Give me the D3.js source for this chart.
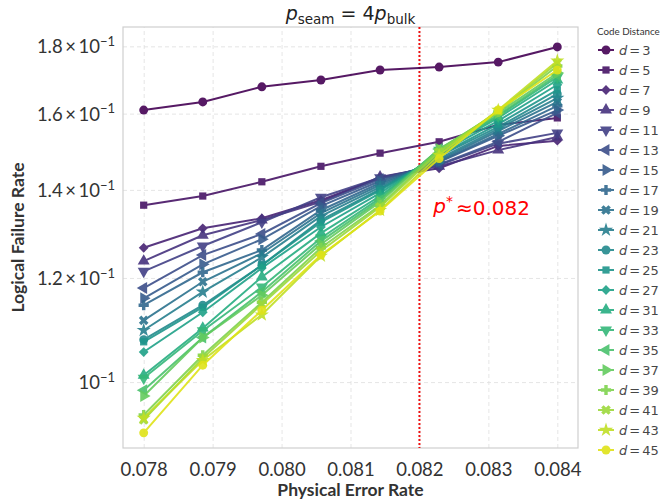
<!DOCTYPE html>
<html>
<head>
<meta charset="utf-8">
<script src="https://cdn.jsdelivr.net/npm/d3@7"></script>
<style>
  body { margin: 0; background: #fff; }
  svg { display: block; }
</style>
</head>
<body>
<svg id="chart" width="662" height="500"></svg>
<script>
// physical error rates (x) sampled for every code distance
const physRates = [0.078, 0.078857, 0.079714, 0.080571, 0.081429, 0.082286, 0.083143, 0.084];
const distances = [3, 5, 7, 9, 11, 13, 15, 17, 19, 21, 23, 25, 27, 31, 33, 35, 37, 39, 41, 43, 45];
const xTicks = [0.078, 0.079, 0.080, 0.081, 0.082, 0.083, 0.084];
const yTicks = [0.10, 0.12, 0.14, 0.16, 0.18];
const yTickMant = ["", "1.2", "1.4", "1.6", "1.8"];
const threshold = 0.082;

// logical failure rate, one row per code distance
const failureRates = [
  [0.1610, 0.1633, 0.1677, 0.1697, 0.1727, 0.1736, 0.1751, 0.1798], // d=3
  [0.1363, 0.1385, 0.1420, 0.1459, 0.1493, 0.1523, 0.1569, 0.1588], // d=5
  [0.1265, 0.1309, 0.1332, 0.1375, 0.1430, 0.1454, 0.1512, 0.1526], // d=7
  [0.1236, 0.1293, 0.1328, 0.1371, 0.1432, 0.1459, 0.1501, 0.1536], // d=9
  [0.1214, 0.1269, 0.1323, 0.1382, 0.1430, 0.1462, 0.1518, 0.1547], // d=11
  [0.1179, 0.1249, 0.1296, 0.1368, 0.1427, 0.1464, 0.1523, 0.1602], // d=13
  [0.1158, 0.1229, 0.1284, 0.1361, 0.1422, 0.1470, 0.1539, 0.1610], // d=15
  [0.1144, 0.1212, 0.1260, 0.1351, 0.1417, 0.1472, 0.1544, 0.1622], // d=17
  [0.1114, 0.1192, 0.1253, 0.1344, 0.1412, 0.1475, 0.1552, 0.1633], // d=19
  [0.1095, 0.1171, 0.1244, 0.1337, 0.1407, 0.1479, 0.1558, 0.1644], // d=21
  [0.1077, 0.1144, 0.1227, 0.1328, 0.1402, 0.1485, 0.1563, 0.1656], // d=23
  [0.1073, 0.1140, 0.1227, 0.1323, 0.1399, 0.1488, 0.1571, 0.1668], // d=25
  [0.1054, 0.1130, 0.1221, 0.1312, 0.1392, 0.1493, 0.1580, 0.1683], // d=27
  [0.1012, 0.1099, 0.1202, 0.1298, 0.1385, 0.1498, 0.1588, 0.1697], // d=31
  [0.1007, 0.1094, 0.1181, 0.1287, 0.1380, 0.1501, 0.1593, 0.1706], // d=33
  [0.0986, 0.1081, 0.1171, 0.1280, 0.1375, 0.1504, 0.1596, 0.1712], // d=35
  [0.0976, 0.1081, 0.1164, 0.1273, 0.1371, 0.1504, 0.1602, 0.1718], // d=37
  [0.0944, 0.1048, 0.1150, 0.1265, 0.1363, 0.1501, 0.1605, 0.1739], // d=39
  [0.0936, 0.1043, 0.1146, 0.1258, 0.1359, 0.1496, 0.1607, 0.1748], // d=41
  [0.0939, 0.1039, 0.1125, 0.1247, 0.1351, 0.1488, 0.1610, 0.1755], // d=43
  [0.0915, 0.1030, 0.1134, 0.1249, 0.1349, 0.1479, 0.1610, 0.1727]  // d=45
];

const markerCycle = ["o", "s", "D", "^", "v", "<", ">", "P", "X", "*"];

const W = 662, H = 500;
const margin = { left: 123, right: 84, top: 27, bottom: 52 };
const iw = W - margin.left - margin.right;
const ih = H - margin.top - margin.bottom;

const svg = d3.select("#chart");
const g = svg.append("g").attr("transform", `translate(${margin.left},${margin.top})`);

const x = d3.scaleLinear().domain([0.0777, 0.0843]).range([0, iw]);
const y = d3.scaleLog().domain([0.0891, 0.1862]).range([ih, 0]);

const color = i => d3.interpolateViridis(i / (distances.length - 1) * 0.95);

function symbolFor(m, scale = 1) {
    var type = d3.symbolCircle, size = 62, rot = 0;
    if (m == "s") { type = d3.symbolSquare; size = 52; }
    if (m == "D") { type = d3.symbolSquare; size = 48; rot = 45; }
    if (m == "^") { type = d3.symbolTriangle; size = 62; }
    if (m == "v") { type = d3.symbolTriangle; size = 62; rot = 180; }
    if (m == "<") { type = d3.symbolTriangle; size = 62; rot = -90; }
    if (m == ">") { type = d3.symbolTriangle; size = 62; rot = 90; }
    if (m == "P") { type = d3.symbolCross; size = 58; }
    if (m == "X") { type = d3.symbolCross; size = 58; rot = 45; }
    if (m == "*") { type = d3.symbolStar; size = 62; }
    return { path: d3.symbol().type(type).size(size * scale)(), rot: rot };
}

// grid
g.append("g")
    .attr("class", "grid")
    .attr("transform", `translate(0,${ih})`)
    .call(d3.axisBottom(x).tickValues(xTicks).tickSize(-ih).tickFormat(""));
g.append("g")
    .attr("class", "grid")
    .call(d3.axisLeft(y).tickValues(yTicks).tickSize(-iw).tickFormat(""));
g.selectAll(".grid .domain").remove();
g.selectAll(".grid line")
    .attr("stroke", "#dedede")
    .attr("stroke-width", 0.8)
    .attr("stroke-dasharray", "4,3");

// frame
g.append("rect")
    .attr("width", iw)
    .attr("height", ih)
    .attr("fill", "none")
    .attr("stroke", "#cfcfcf")
    .attr("stroke-width", 1.2);

// x axis
const xAxis = g.append("g")
    .attr("transform", `translate(0,${ih})`)
    .call(d3.axisBottom(x).tickValues(xTicks).tickSize(0).tickPadding(9).tickFormat(d3.format(".3f")));
xAxis.select(".domain").remove();
xAxis.selectAll("text")
    .attr("dy", "1em")
    .style("font-family", "Lato, sans-serif")
    .style("font-size", "18.5px")
    .attr("fill", "#333");

// y axis (log, mantissa x 10^-1 labels)
const yAxis = g.append("g")
    .call(d3.axisLeft(y).tickValues(yTicks).tickSize(0).tickFormat(""));
yAxis.select(".domain").remove();
yAxis.selectAll(".tick").each(function (d, i) {
    var t = d3.select(this).append("text")
        .attr("x", -8)
        .attr("dy", "0.35em")
        .attr("text-anchor", "end")
        .attr("fill", "#333")
        .style("font-family", "Lato, sans-serif")
        .style("font-size", "18.5px");
    if (yTickMant[i] != "") {
        t.append("tspan").text(yTickMant[i]);
        t.append("tspan").attr("dx", "2.5").text("\u00d7");
        t.append("tspan").attr("dx", "2.5").text("10");
    } else {
        t.append("tspan").text("10");
    }
    t.append("tspan").attr("dy", "-0.55em").style("font-size", "13px").text("\u22121");
});

// threshold line
g.append("line")
    .attr("x1", x(threshold)).attr("x2", x(threshold))
    .attr("y1", 0).attr("y2", ih)
    .attr("stroke", "#ee1111")
    .attr("stroke-width", 2)
    .attr("stroke-dasharray", "2,2");

// series
const line = d3.line().x((d, i) => x(physRates[i])).y(d => y(d));

distances.forEach((dist, k) => {
    var c = color(k);
    var sym = symbolFor(markerCycle[k % markerCycle.length]);
    var s = g.append("g").attr("opacity", 0.9);
    s.append("path")
        .attr("d", line(failureRates[k]))
        .attr("fill", "none")
        .attr("stroke", c)
        .attr("stroke-width", 2);
    s.selectAll("path.mk")
        .data(failureRates[k])
        .enter()
        .append("path")
        .attr("class", "mk")
        .attr("d", sym.path)
        .attr("transform", (d, i) => `translate(${x(physRates[i])},${y(d)}) rotate(${sym.rot})`)
        .attr("fill", c);
});

// annotation
const ann = g.append("text")
    .attr("x", x(0.0822))
    .attr("y", y(0.1345))
    .attr("fill", "#ff0000")
    .style("font-family", "DejaVu Sans, sans-serif")
    .style("font-size", "20px");
ann.append("tspan").style("font-style", "italic").text("p");
ann.append("tspan").attr("dy", "-0.45em").style("font-size", "14px").text("*");
ann.append("tspan").attr("dy", "0.45em").attr("dx", "3").text("\u22480.082");

// title
const title = svg.append("text")
    .attr("x", margin.left + iw / 2)
    .attr("y", 20)
    .attr("text-anchor", "middle")
    .attr("fill", "#222")
    .style("font-family", "DejaVu Sans, sans-serif")
    .style("font-size", "19px");
title.append("tspan").style("font-style", "italic").text("p");
title.append("tspan").attr("dy", "4").style("font-size", "13.5px").text("seam");
title.append("tspan").attr("dy", "-4").text(" = 4");
title.append("tspan").style("font-style", "italic").text("p");
title.append("tspan").attr("dy", "4").style("font-size", "13.5px").text("bulk");

// axis titles
svg.append("text")
    .attr("x", margin.left + iw / 2)
    .attr("y", 496)
    .attr("text-anchor", "middle")
    .attr("fill", "#333")
    .style("font-family", "Lato, sans-serif")
    .style("font-weight", "bold")
    .style("font-size", "17.5px")
    .text("Physical Error Rate");
svg.append("text")
    .attr("transform", `translate(24,${margin.top + ih / 2}) rotate(-90)`)
    .attr("text-anchor", "middle")
    .attr("fill", "#333")
    .style("font-family", "Lato, sans-serif")
    .style("font-weight", "bold")
    .style("font-size", "17.5px")
    .text("Logical Failure Rate");

// legend
const lg = svg.append("g").attr("transform", "translate(597,0)");
lg.append("text")
    .attr("x", 0).attr("y", 35)
    .attr("fill", "#333")
    .style("font-family", "Lato, sans-serif")
    .style("font-size", "9.8px")
    .text("Code Distance");
distances.forEach((dist, k) => {
    var c = color(k);
    var sym = symbolFor(markerCycle[k % markerCycle.length]);
    var row = lg.append("g").attr("transform", `translate(0,${50 + k * 20})`).attr("opacity", 0.9);
    row.append("line").attr("x1", 1).attr("x2", 17).attr("stroke", c).attr("stroke-width", 2);
    row.append("path").attr("d", sym.path).attr("transform", `translate(9,0) rotate(${sym.rot})`).attr("fill", c);
    var t = row.append("text")
        .attr("x", 22).attr("dy", "0.36em")
        .attr("fill", "#333")
        .style("font-family", "DejaVu Sans, sans-serif")
        .style("font-size", "13px");
    t.append("tspan").style("font-style", "italic").text("d");
    t.append("tspan").attr("dx", "2").text("=");
    t.append("tspan").attr("dx", "2").text(dist);
});
</script>
</body>
</html>
